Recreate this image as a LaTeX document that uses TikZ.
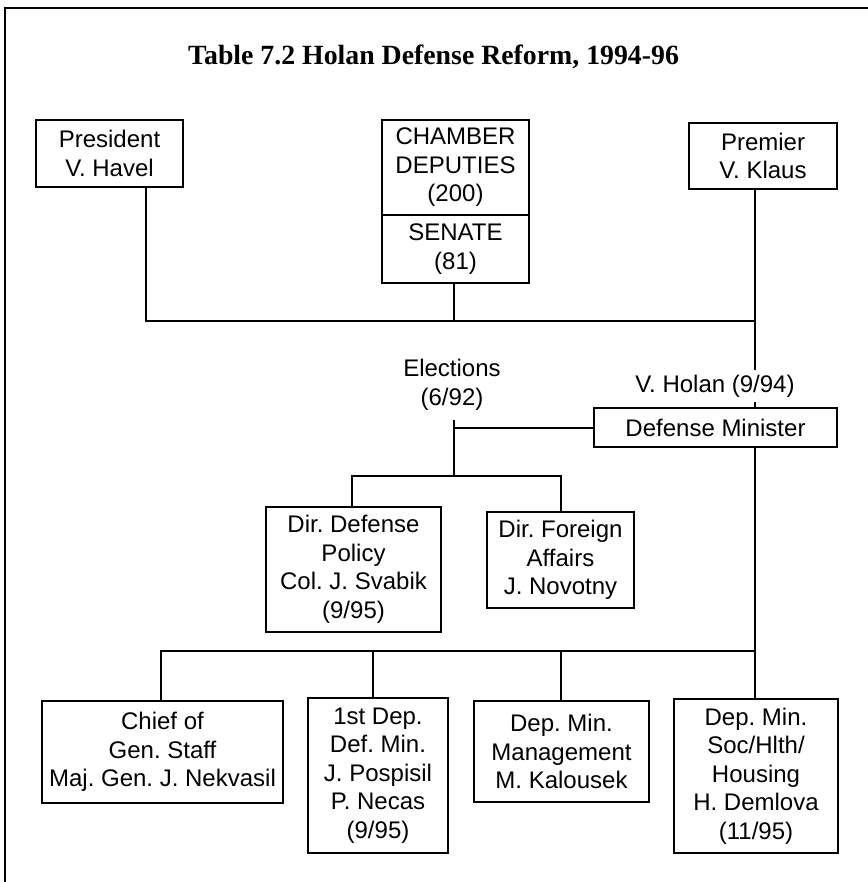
\documentclass[tikz,border=0pt]{standalone}
\usepackage{fontspec}
\setmainfont{Liberation Sans}
\newfontfamily\titlefont{Liberation Serif}
\frenchspacing
\begin{document}
\begin{tikzpicture}[x=1pt, y=-1pt, line width=2pt,
  txt/.style={font=\fontsize{24}{28.5}\selectfont, align=center, inner sep=0pt},
  box/.style={txt, draw, rectangle},
  link/.style={line width=2pt}]
\useasboundingbox (0,0) rectangle (867,882);

% frame
\draw (868,8) -- (5,8) -- (5,883);

% title
\node[anchor=base, font=\titlefont\bfseries\fontsize{27.8}{30}\selectfont] (title) at (433.5,65)
  {Table 7.2 Holan Defense Reform, 1994-96};

% top level
\node[box, minimum width=147pt, minimum height=67pt] (pres) at (109.5,153.5) {President\\V. Havel};
\node[box, minimum width=147pt, minimum height=95pt] (chamber) at (455.5,167.5) {CHAMBER\\DEPUTIES\\(200)};
\node[box, minimum width=147pt, minimum height=68pt] (senate) at (455.5,249) {SENATE\\(81)};
\node[box, minimum width=148pt, minimum height=66pt] (premier) at (763,156) {Premier\\V. Klaus};

% ministry
\node[box, minimum width=243pt, minimum height=39pt] (defmin) at (715.5,427.5) {Defense Minister};
\node[txt] (elect) at (452,385) {Elections\\(6/92)};

\node[box, minimum width=175pt, minimum height=125pt] (dirdef) at (353.5,569.5) {Dir. Defense\\Policy\\Col. J. Svabik\\(9/95)};
\node[box, minimum width=147pt, minimum height=96pt] (dirfor) at (560.5,560) {Dir. Foreign\\Affairs\\J. Novotny};

\node[box, minimum width=241pt, minimum height=102pt] (chief) at (162.5,752) {Chief of\\Gen. Staff\\Maj. Gen. J. Nekvasil};
\node[box, minimum width=140pt, minimum height=155pt] (first) at (378,775.5) {1st Dep.\\Def. Min.\\J. Pospisil\\P. Necas\\(9/95)};
\node[box, minimum width=175pt, minimum height=101pt] (mgmt) at (561.5,751.5) {Dep. Min.\\Management\\M. Kalousek};
\node[box, minimum width=164pt, minimum height=154pt] (soc) at (756,776) {Dep. Min.\\Soc/Hlth/\\Housing\\H. Demlova\\(11/95)};

% junctions
\coordinate (busA) at (755,321);
\coordinate (tick) at (454,420);
\coordinate (busB) at (454,476);
\coordinate (busC) at (755,651);

% connectors: heads of state and parliament
\draw[link] ([xshift=36.5pt]pres.south) |- (busA);
\draw[link] ([xshift=-2pt]senate.south) -- ([xshift=-2pt]senate.south |- busA);
\draw[link] ([xshift=-8pt]premier.south) -- ([xshift=39.5pt]defmin.north);

% minister to directors
\draw[link] (defmin.west) -- (defmin.west -| tick);
\draw[link] (tick) -- (busB);
\draw[link] ([xshift=-1.5pt]dirdef.north) |- (busB) -| (dirfor.north);

% minister to deputies
\draw[link] ([xshift=39.5pt]defmin.south) -- (busC);
\draw[link] (busC) -| ([xshift=-1.5pt]chief.north);
\draw[link] (busC) -| ([xshift=-5pt]first.north);
\draw[link] (busC) -| ([xshift=-0.5pt]mgmt.north);
\draw[link] (busC) -- ([xshift=-1pt]soc.north);

% label over the minister's line
\node[txt, fill=white, inner xsep=2pt, inner ysep=5pt, anchor=base] (holan) at (715,392) {V. Holan (9/94)};
\end{tikzpicture}
\end{document}
